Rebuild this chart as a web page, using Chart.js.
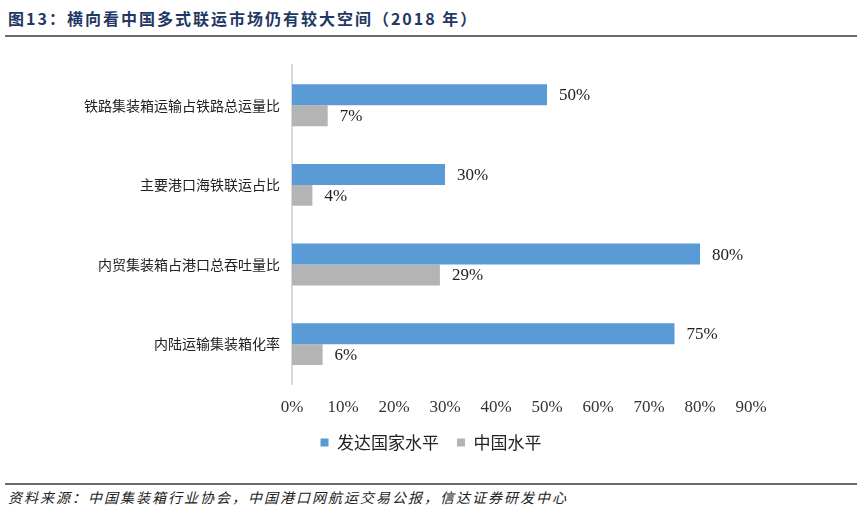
<!DOCTYPE html>
<html>
<head>
<meta charset="utf-8">
<script src="https://cdn.jsdelivr.net/npm/chart.js@4"></script>
<style>
  body { margin: 0; width: 862px; height: 510px; background: #fff; position: relative; overflow: hidden; }
  #title {
    position: absolute; left: 8px; top: 6px;
    font-family: "Noto Sans CJK SC", sans-serif; font-weight: bold; font-size: 16px;
    letter-spacing: 2px; color: #1f3864;
  }
  .rule { position: absolute; left: 5px; width: 852px; height: 2px; background: #6b6b6b; }
  #footer {
    position: absolute; left: 8px; top: 487px;
    font-family: "Noto Sans CJK SC", sans-serif; font-style: italic; font-size: 14px;
    letter-spacing: 2px; color: #222;
  }
  #wrap { position: absolute; left: 0; top: 45px; width: 862px; height: 425px; }
</style>
</head>
<body>
<div id="title">图13：横向看中国多式联运市场仍有较大空间（2018 年）</div>
<div class="rule" style="top:35px"></div>
<div id="wrap"><canvas id="myChart"></canvas></div>
<div class="rule" style="top:483px"></div>
<div id="footer">资料来源：中国集装箱行业协会，中国港口网航运交易公报，信达证券研发中心</div>
<script>
const categories = ['铁路集装箱运输占铁路总运量比', '主要港口海铁联运占比', '内贸集装箱占港口总吞吐量比', '内陆运输集装箱化率']
const developed = [50, 30, 80, 75]
const china = [7, 4, 29, 6]
const xTicks = [0, 10, 20, 30, 40, 50, 60, 70, 80, 90]

// value labels to the right of each bar
const barLabels = {
  id: 'barLabels',
  afterDatasetsDraw(chart) {
    const ctx = chart.ctx
    ctx.save()
    ctx.font = '17px "Liberation Serif", serif'
    ctx.fillStyle = '#222'
    ctx.textBaseline = 'middle'
    chart.data.datasets.forEach((ds, i) => {
      chart.getDatasetMeta(i).data.forEach((bar, j) => {
        ctx.fillText(ds.data[j] + '%', bar.x + 12, bar.y + 1)
      })
    })
    ctx.restore()
  }
}

const ctx = document.getElementById('myChart')
const myChart = new Chart(ctx, {
  type: 'bar',
  data: {
    labels: categories,
    datasets: [{
      label: '发达国家水平',
      data: developed,
      backgroundColor: '#5b9bd5',
      barPercentage: 1,
      categoryPercentage: 0.525
    }, {
      label: '中国水平',
      data: china,
      backgroundColor: '#b4b4b4',
      barPercentage: 1,
      categoryPercentage: 0.525
    }]
  },
  options: {
    indexAxis: 'y',
    responsive: true,
    maintainAspectRatio: false,
    animation: false,
    layout: { padding: { top: 13, right: 0, bottom: 9, left: 0 } },
    scales: {
      x: {
        min: 0,
        max: 90,
        afterBuildTicks: (axis) => { axis.ticks = xTicks.map(v => ({ value: v })) },
        afterFit: (axis) => { axis.height = 32 },
        grid: { display: false, drawTicks: false },
        border: { display: false },
        ticks: {
          padding: 13,
          maxRotation: 0,
          autoSkip: false,
          color: '#333',
          font: { family: '"Liberation Serif", serif', size: 17 },
          callback: (v) => v + '%'
        }
      },
      y: {
        afterFit: (axis) => { axis.width = 292 },
        grid: { display: false, drawTicks: false },
        border: { display: true, color: '#d9d9d9', width: 2 },
        ticks: {
          padding: 12,
          color: '#222',
          font: { family: '"Noto Sans CJK SC", sans-serif', size: 14 }
        }
      },
      // empty right-hand axis that only reserves room for the value labels
      yRight: {
        axis: 'y',
        position: 'right',
        afterFit: (axis) => { axis.width = 111 },
        grid: { display: false, drawTicks: false },
        border: { display: false },
        ticks: { display: false }
      }
    },
    plugins: {
      legend: {
        position: 'bottom',
        labels: {
          boxWidth: 8,
          boxHeight: 8,
          padding: 18,
          color: '#222',
          font: { family: '"Noto Sans CJK SC", sans-serif', size: 17 }
        }
      },
      tooltip: { enabled: false }
    }
  },
  plugins: [barLabels]
})
</script>
</body>
</html>
